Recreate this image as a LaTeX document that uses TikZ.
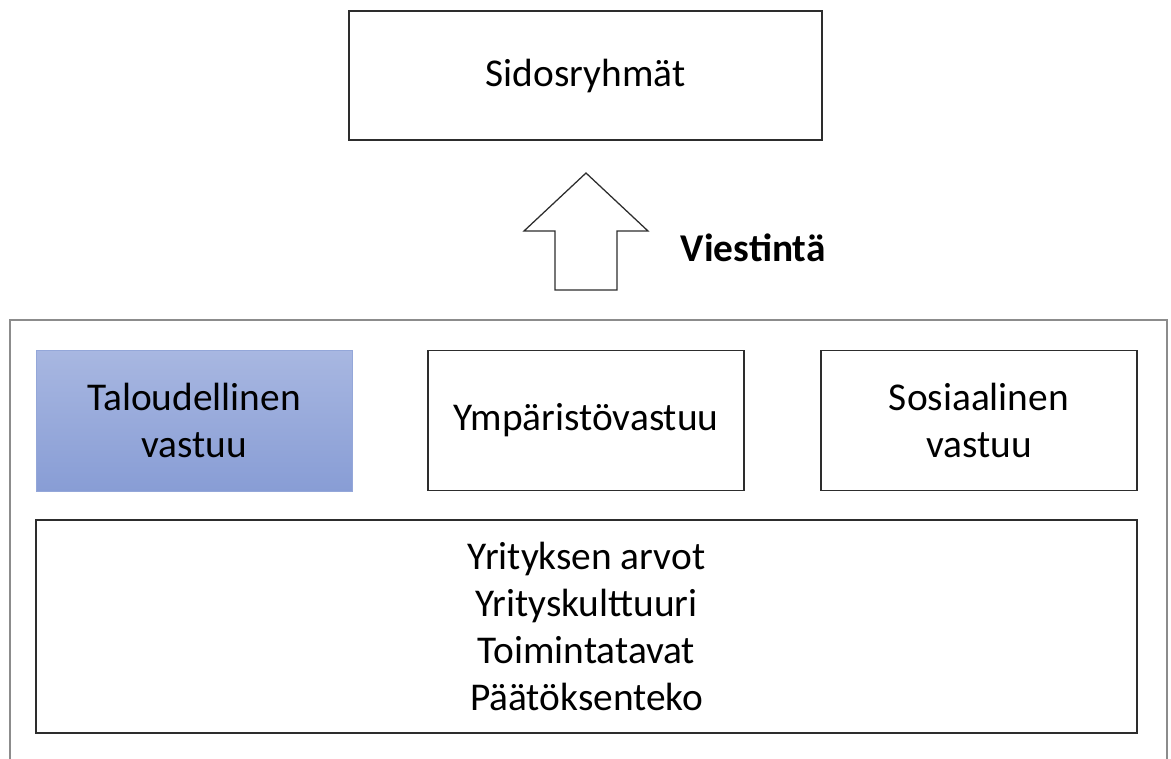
\documentclass[tikz,border=0pt]{standalone}
\usepackage{fontspec}
\setmainfont{Carlito}
\usetikzlibrary{positioning}

\newlength\unitpx
\setlength\unitpx{0.025cm}
\definecolor{blueTop}{RGB}{168,183,225}
\definecolor{blueBot}{RGB}{136,157,213}
\definecolor{frameGray}{RGB}{140,140,140}
\definecolor{lineDark}{RGB}{45,45,45}

\begin{document}
\begin{tikzpicture}[
    x=\unitpx, y=-\unitpx,
    font=\fontsize{28}{33.3}\selectfont,
    box node/.style={rectangle,draw=lineDark,line width=0.9pt,fill=white,align=center,inner sep=0pt},
    blue node/.style={rectangle,top color=blueTop,bottom color=blueBot,draw=blueBot!90!white,line width=0.3pt,align=center,inner sep=0pt},
    arrow shape/.style={draw=lineDark,line width=0.9pt,fill=white,line join=miter}
]
\useasboundingbox (0,0) rectangle (1171,758);
\clip (0,0) rectangle (1171,758);

% outer frame
\draw[frameGray,line width=0.9pt] (10,320) rectangle (1167,800);

\node[box node,minimum width=473\unitpx,minimum height=129\unitpx] (groups) at (585.5,75.5) {Sidosryhmät};

\node[blue node,minimum width=316\unitpx,minimum height=141\unitpx] (econ) at (194,420.5) {Taloudellinen\\vastuu};
\node[box node,minimum width=316\unitpx,minimum height=140\unitpx] (env) at (586,420.5) {Ympäristövastuu};
\node[box node,minimum width=316\unitpx,minimum height=140\unitpx] (soc) at (979,420.5) {Sosiaalinen\\vastuu};

\node[box node,minimum width=1101\unitpx,minimum height=213\unitpx] (base) at (586.5,626.5)
    {Yrityksen arvot\\Yrityskulttuuri\\Toimintatavat\\Päätöksenteko};

% communication arrow
\coordinate (tip) at (586,173);
\draw[arrow shape] (tip) -- ++(62,58) -- ++(-31,0) -- ++(0,59) -- ++(-62,0) -- ++(0,-59) -- ++(-31,0) -- cycle;
\node[font=\fontsize{28}{33.3}\selectfont\bfseries,anchor=west] (comm) at (676,248) {Viestintä};

\end{tikzpicture}
\end{document}
